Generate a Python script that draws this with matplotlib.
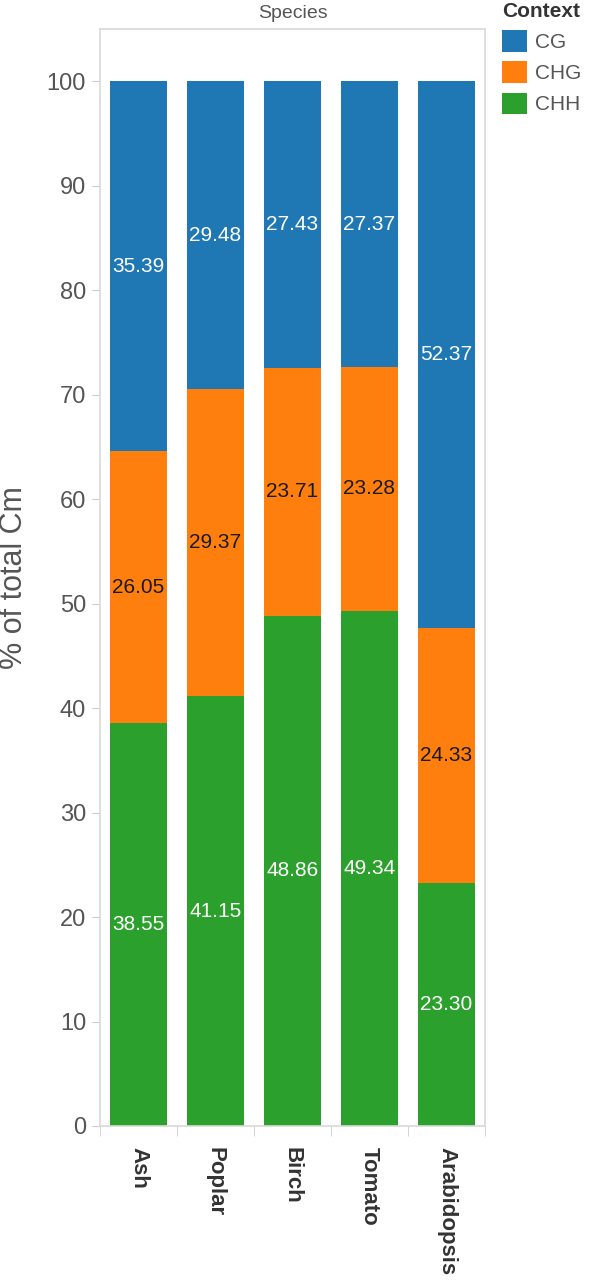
import numpy as np
import matplotlib.pyplot as plt
from matplotlib.patches import Patch

plt.rcParams['font.family'] = ['Liberation Sans', 'DejaVu Sans']

# --- data ---
species = ['Ash', 'Poplar', 'Birch', 'Tomato', 'Arabidopsis']
contexts = ['CG', 'CHG', 'CHH']
cg = [35.39, 29.48, 27.43, 27.37, 52.37]
chg = [26.05, 29.37, 23.71, 23.28, 24.33]
chh = [38.55, 41.15, 48.86, 49.34, 23.30]

colors = {'CG': '#1f77b4', 'CHG': '#ff7f0e', 'CHH': '#2ca02c'}
text_colors = {'CG': 'white', 'CHG': '#1a1a1a', 'CHH': 'white'}

fig = plt.figure(figsize=(5.97, 12.8), dpi=100)
ax = fig.add_axes([100 / 597, 1 - 1126 / 1280, 385 / 597, 1097 / 1280])

x = np.arange(len(species))
bottom = np.zeros(len(species))
# stack from the bottom: CHH, CHG, CG
for name, vals in [('CHH', chh), ('CHG', chg), ('CG', cg)]:
    vals = np.array(vals)
    ax.bar(x, vals, bottom=bottom, width=0.735, color=colors[name], zorder=2)
    for xi, b, v in zip(x, bottom, vals):
        ax.text(xi, b + v / 2, f'{v:.2f}', ha='center', va='center',
                fontsize=15, color=text_colors[name], zorder=3)
    bottom += vals

ax.set_xlim(-0.5, len(species) - 0.5)
ax.set_ylim(0, 105)

# frame
for s in ax.spines.values():
    s.set_color('#d9d9d9')
    s.set_linewidth(1.2)

ax.set_yticks(np.arange(0, 101, 10))
ax.tick_params(axis='y', length=6, color='#cccccc', labelsize=17,
               labelcolor='#555555', pad=4)

ax.set_xticks(x)
ax.set_xticklabels(species, rotation=-90, fontsize=16, fontweight='bold',
                   color='#333333', va='top', ha='center')
ax.set_xticks(np.arange(-0.5, len(species), 1), minor=True)
ax.tick_params(axis='x', which='major', length=0, pad=15)
ax.tick_params(axis='x', which='minor', length=7, color='#cccccc')

ax.set_ylabel('% of total Cm', fontsize=22, color='#555555')
ax.yaxis.set_label_coords(-0.185, 0.5)

ax.set_title('Species', fontsize=14, color='#555555', pad=8)

handles = [Patch(facecolor=colors[c], edgecolor='none') for c in contexts]
leg = fig.legend(handles, contexts, title='Context', loc='upper left',
                 bbox_to_anchor=(502 / 597, 1 - 2 / 1280), frameon=False,
                 fontsize=15, title_fontproperties={'weight': 'bold', 'size': 15},
                 alignment='left', handlelength=1.2, handleheight=1.2,
                 handletextpad=0.4, labelspacing=0.45, borderpad=0,
                 borderaxespad=0, labelcolor='#555555')
leg.get_title().set_color('#333333')

fig.savefig('out.png', dpi=100)
